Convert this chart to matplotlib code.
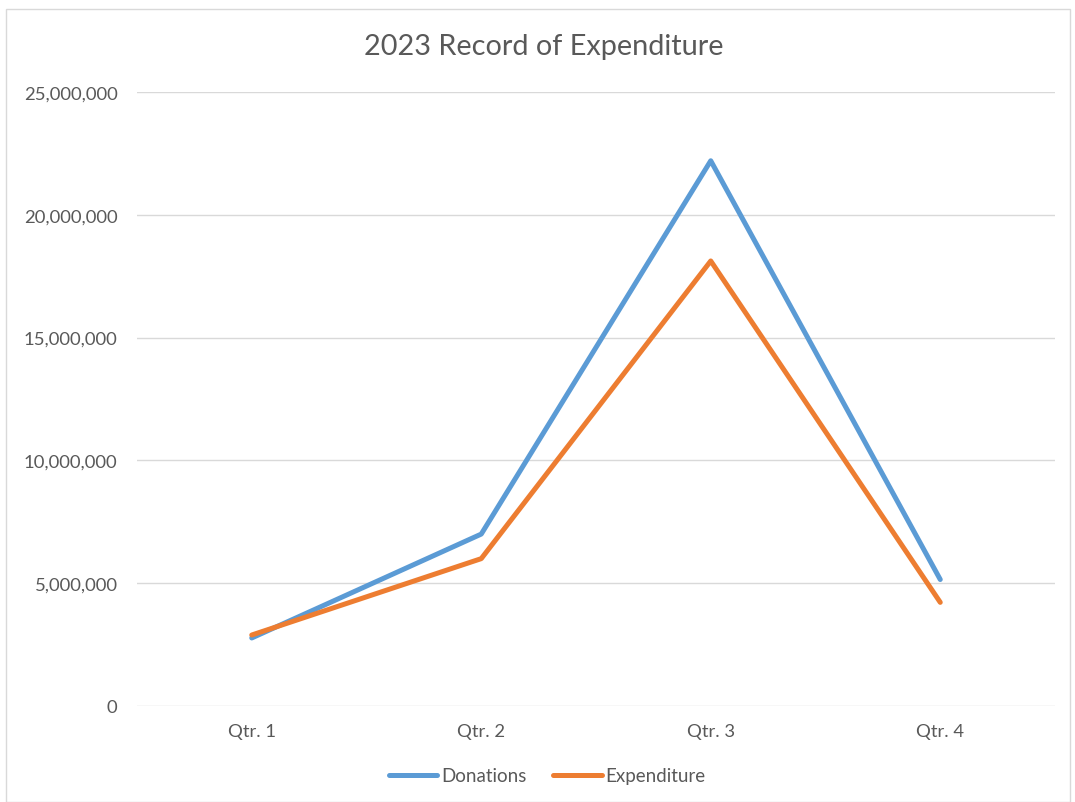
import matplotlib
matplotlib.use("Agg")
import matplotlib.pyplot as plt
from matplotlib.patches import Rectangle
from matplotlib.ticker import FuncFormatter

categories = ["Qtr. 1", "Qtr. 2", "Qtr. 3", "Qtr. 4"]
donations = [2770000, 7000000, 22200000, 5150000]
expenditure = [2890000, 6000000, 18120000, 4220000]
title = "2023 Record of Expenditure"

plt.rcParams['font.family'] = ['Lato', 'DejaVu Sans']
txt = '#595959'

fig = plt.figure(figsize=(10.75, 8.03), dpi=100)
fig.patches.append(Rectangle((6/1075, 0), 1064/1075, 1 - 10/803, transform=fig.transFigure,
                             fill=False, edgecolor='#D9D9D9', linewidth=1.0))
ax = fig.add_axes([137/1075, 1 - 707/803, (1055 - 137)/1075, (707 - 93)/803])

x = list(range(len(categories)))
ax.plot(x, donations, color='#5B9BD5', linewidth=3.6, solid_capstyle='round',
        solid_joinstyle='round', label='Donations', zorder=3)
ax.plot(x, expenditure, color='#ED7D31', linewidth=3.6, solid_capstyle='round',
        solid_joinstyle='round', label='Expenditure', zorder=3)

ax.set_xlim(-0.5, 3.5)
ax.set_ylim(0, 25000000)
ax.set_yticks(range(0, 25000001, 5000000))
ax.yaxis.set_major_formatter(FuncFormatter(lambda v, p: f"{int(v):,}"))
ax.set_xticks(x)
ax.set_xticklabels(categories)
ax.grid(axis='y', color='#D9D9D9', linewidth=1.0)
ax.set_axisbelow(True)
for s in ax.spines.values():
    s.set_visible(False)
ax.tick_params(axis='y', length=0, labelsize=13.3, colors=txt, pad=14)
ax.tick_params(axis='x', length=0, labelsize=13.3, colors=txt, pad=12)

fig.text(544/1075, 1 - 47/803, title, ha='center', va='center', fontsize=20.8, color=txt)

leg = fig.legend(loc='center', bbox_to_anchor=(547/1075, 1 - 777/803), ncol=2, frameon=False,
                 fontsize=13.5, handlelength=2.6, handletextpad=0.2, columnspacing=1.4)
for t in leg.get_texts():
    t.set_color(txt)

fig.savefig("out.png", dpi=100)
